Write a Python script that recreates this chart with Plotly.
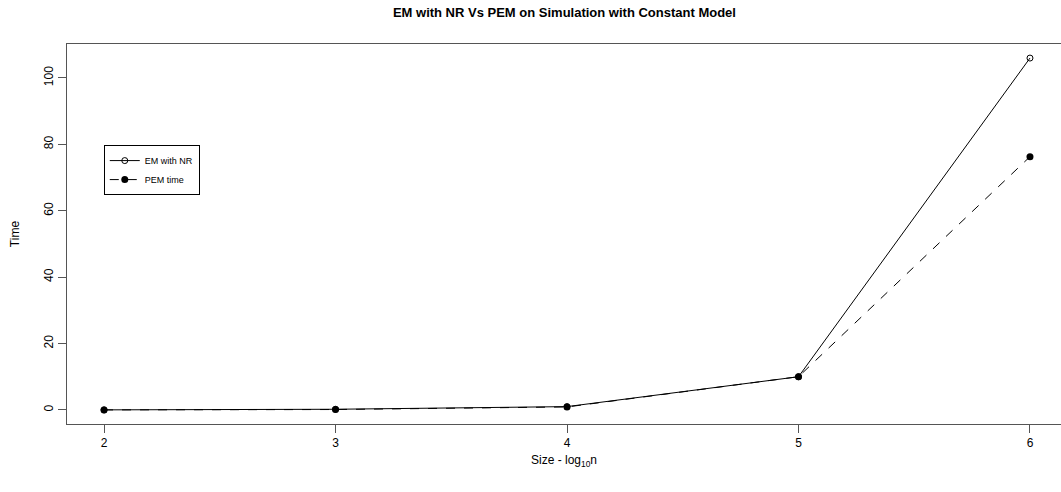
import plotly.graph_objects as go

sizes = [2, 3, 4, 5, 6]
em_nr = [0.02, 0.2, 1.0, 10.0, 106.0]
pem_time = [0.01, 0.12, 0.9, 10.0, 76.3]
x_ticks = [2, 3, 4, 5, 6]
y_ticks = [0, 20, 40, 60, 80, 100]

FONT = "Liberation Sans, Arial, sans-serif"

fig = go.Figure()
fig.add_trace(go.Scatter(
    x=sizes, y=em_nr, mode="lines+markers", name="EM with NR",
    line=dict(color="black", width=1, dash="solid"),
    marker=dict(symbol="circle-open", size=6, color="black", line=dict(width=1)),
))
fig.add_trace(go.Scatter(
    x=sizes, y=pem_time, mode="lines+markers", name="PEM time",
    line=dict(color="black", width=1, dash="dash"),
    marker=dict(symbol="circle", size=7, color="black"),
))

fig.update_layout(
    width=1061, height=492,
    margin=dict(l=67, r=0, t=44, b=68, autoexpand=False),
    paper_bgcolor="white", plot_bgcolor="white",
    font=dict(family=FONT, size=12, color="black"),
    title=dict(text="<b>EM with NR Vs PEM on Simulation with Constant Model</b>",
               x=0.532, xanchor="center", y=0.984, yanchor="top",
               font=dict(size=13, family=FONT)),
    showlegend=True,
    legend=dict(x=0.037, y=0.734, xanchor="left", yanchor="top",
                bordercolor="black", borderwidth=1, bgcolor="white",
                font=dict(size=9, family=FONT), tracegroupgap=0,
                itemwidth=30),
)
fig.update_xaxes(
    range=[1.84, 6.134], tickvals=x_ticks, ticks="outside", ticklen=8,
    showgrid=False, zeroline=False, showline=True, mirror=True, automargin=False,
    linecolor="#555", linewidth=1, tickcolor="#555",
    title=dict(text="Size - log<sub>10</sub>n", font=dict(size=12), standoff=6),
)
fig.update_yaxes(
    range=[-4.24, 110.24], tickvals=y_ticks, ticks="outside", ticklen=8,
    tickangle=-90, showgrid=False, zeroline=False, showline=True, mirror=True,
    automargin=False,
    linecolor="#555", linewidth=1, tickcolor="#555",
    title=dict(text="Time", font=dict(size=12), standoff=20),
)

fig.write_html(
    "out.html",
    config={"displayModeBar": False},
    post_script="document.body.style.margin='0';document.body.style.overflow='hidden';",
)
